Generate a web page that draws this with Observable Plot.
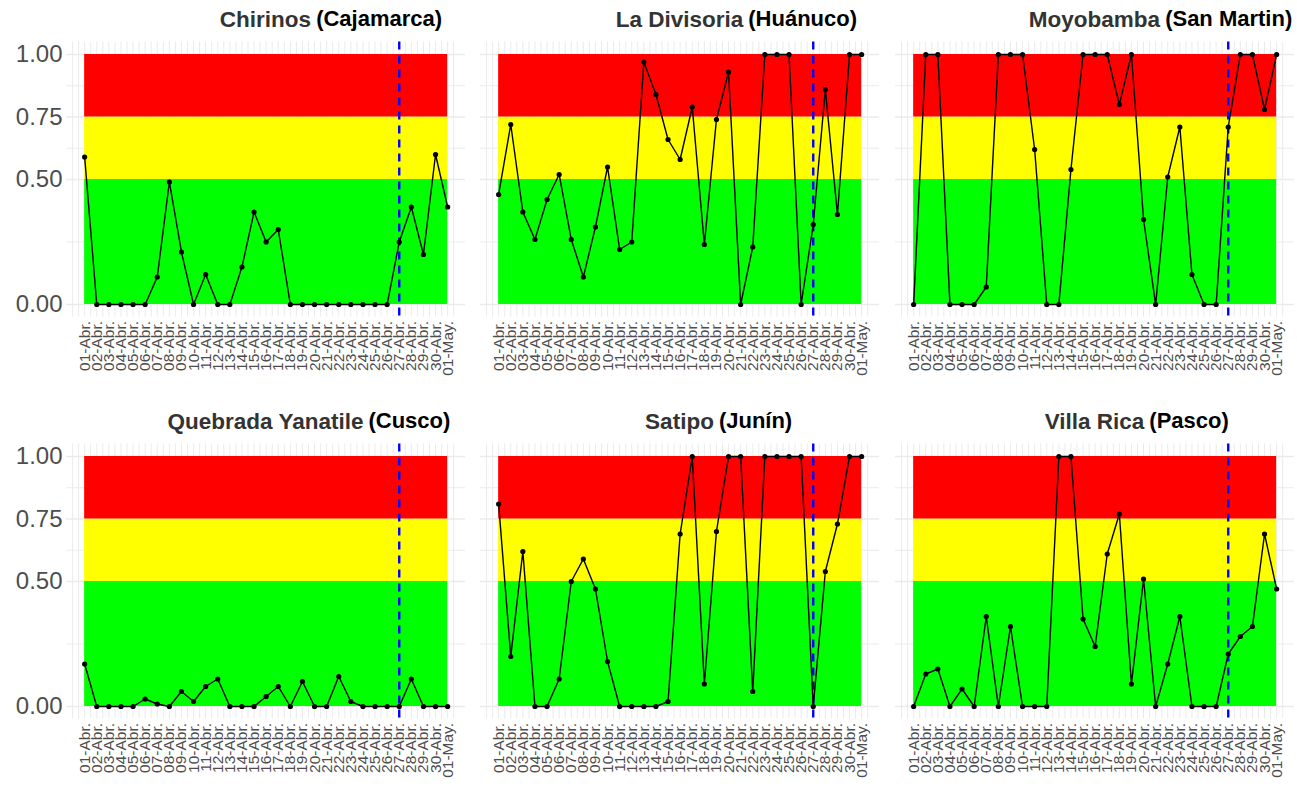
<!DOCTYPE html>
<html>
<head>
<meta charset="utf-8">
<script src="https://cdn.jsdelivr.net/npm/d3@7"></script>
<script src="https://cdn.jsdelivr.net/npm/@observablehq/plot@0.6"></script>
<style>
  html, body { margin: 0; padding: 0; background: #fff; }
  #root { position: relative; width: 1297px; height: 788px; overflow: hidden; font-family: "Liberation Sans", Arial, sans-serif; }
  .panel { position: absolute; }
  .title { position: absolute; transform: translateX(-50%); white-space: nowrap; font-weight: bold; font-size: 22.5px; color: #333333; line-height: 1; }
  .region { position: absolute; left: 100%; top: -1px; margin-left: 5px; color: #000; font-size: 22px; }
</style>
</head>
<body>
<div id="root"></div>
<script>
// ---- data ----
const dates = ["01-Abr.","02-Abr.","03-Abr.","04-Abr.","05-Abr.","06-Abr.","07-Abr.","08-Abr.","09-Abr.","10-Abr.",
  "11-Abr.","12-Abr.","13-Abr.","14-Abr.","15-Abr.","16-Abr.","17-Abr.","18-Abr.","19-Abr.","20-Abr.",
  "21-Abr.","22-Abr.","23-Abr.","24-Abr.","25-Abr.","26-Abr.","27-Abr.","28-Abr.","29-Abr.","30-Abr.","01-May."];
const sites = ["Chirinos","La Divisoria","Moyobamba","Quebrada Yanatile","Satipo","Villa Rica"];
const regions = ["(Cajamarca)","(Huánuco)","(San Martin)","(Cusco)","(Junín)","(Pasco)"];
const chirinos   = [0.59,0,0,0,0,0,0.11,0.49,0.21,0,0.12,0,0,0.15,0.37,0.25,0.30,0,0,0,0,0,0,0,0,0,0.25,0.39,0.20,0.60,0.39];
const laDivisoria= [0.44,0.72,0.37,0.26,0.42,0.52,0.26,0.11,0.31,0.55,0.22,0.25,0.97,0.84,0.66,0.58,0.79,0.24,0.74,0.93,0,0.23,1,1,1,0,0.32,0.86,0.36,1,1];
const moyobamba  = [0,1,1,0,0,0,0.07,1,1,1,0.62,0,0,0.54,1,1,1,0.80,1,0.34,0,0.51,0.71,0.12,0,0,0.71,1,1,0.78,1];
const yanatile   = [0.17,0,0,0,0,0.03,0.01,0,0.06,0.02,0.08,0.11,0,0,0,0.04,0.08,0,0.10,0,0,0.12,0.02,0,0,0,0,0.11,0,0,0];
const satipo     = [0.81,0.20,0.62,0,0,0.11,0.50,0.59,0.47,0.18,0,0,0,0,0.02,0.69,1,0.09,0.70,1,1,0.06,1,1,1,1,0,0.54,0.73,1,1];
const villaRica  = [0,0.13,0.15,0,0.07,0,0.36,0,0.32,0,0,0,1,1,0.35,0.24,0.61,0.77,0.09,0.51,0,0.17,0.36,0,0,0,0.21,0.28,0.32,0.69,0.47];
const series = [chirinos, laDivisoria, moyobamba, yanatile, satipo, villaRica];
const refDate = "27-Abr.";
const bandBreaks = [0, 0.5, 0.75, 1];
const yTicks = [0, 0.5, 0.75, 1];
const yMinor = [0.25, 0.625, 0.875];

// ---- layout ----
const bandColors = ["#00ff00", "#ffff00", "#ff0000"];
const root = document.getElementById("root");
const n = dates.length;
const pad = (n - 1) * 0.05;
const step = 12.1;               // px per day
const gridW = (n - 1 + 2 * pad) * step;
const mL = 66, mT = 41.5, gridH = 275, mB = 75;
const colLeft = [84, 498, 913];   // pixel of first date in each column
const rowTop = [0, 402];

const bands = d3.range(bandBreaks.length - 1).map(i => ({x1: 0, x2: n - 1, y1: bandBreaks[i], y2: bandBreaks[i + 1], c: bandColors[i]}));
const refIdx = dates.indexOf(refDate);

series.forEach((vals, k) => {
  const col = k % 3, row = Math.floor(k / 3);
  const data = vals.map((v, i) => ({i, v}));
  const showY = col === 0;
  const svgLeft = colLeft[col] - pad * step - mL;
  const marks = [
    Plot.ruleX(d3.range(-1, n - 0.5 + 1e-9, 0.5), {stroke: "#ebebeb", strokeWidth: 1}),
    Plot.ruleY(yMinor, {stroke: "#ebebeb", strokeWidth: 1}),
    Plot.ruleY(yTicks, {stroke: "#ebebeb", strokeWidth: 1.6}),
    Plot.rect(bands, {x1: "x1", x2: "x2", y1: "y1", y2: "y2", fill: "c"}),
    Plot.ruleX([refIdx], {stroke: "#0000ff", strokeWidth: 2.4, strokeDasharray: "8,6"}),
    Plot.line(data, {x: "i", y: "v", stroke: "#000", strokeWidth: 1.4}),
    Plot.dot(data, {x: "i", y: "v", fill: "#000", r: 2.6}),
    Plot.axisX({ticks: d3.range(n), tickFormat: i => dates[i], tickRotate: -90, tickSize: 0, tickPadding: 4, fontSize: 15.5, label: null})
  ];
  if (showY) marks.push(Plot.axisY({ticks: yTicks, tickFormat: d3.format(".2f"), tickSize: 0, tickPadding: 4, fontSize: 24, label: null}));
  const plot = Plot.plot({
    width: mL + gridW, height: mT + gridH + mB,
    marginLeft: mL, marginRight: 0, marginTop: mT, marginBottom: mB,
    style: {fontFamily: "'Liberation Sans', Arial, sans-serif", color: "#4d4d4d", background: "transparent"},
    x: {type: "linear", domain: [-pad, n - 1 + pad], axis: null},
    y: {domain: [-0.05, 1.05], axis: null},
    marks
  });
  plot.classList.add("panel");
  plot.style.left = svgLeft + "px";
  plot.style.top = rowTop[row] + "px";
  root.appendChild(plot);

  const t = document.createElement("div");
  t.className = "title";
  t.style.left = (colLeft[col] + (n - 1) * step / 2) + "px";
  t.style.top = (rowTop[row] + 9) + "px";
  t.textContent = sites[k];
  const r = document.createElement("span");
  r.className = "region";
  r.textContent = regions[k];
  t.appendChild(r);
  root.appendChild(t);
});
</script>
</body>
</html>
